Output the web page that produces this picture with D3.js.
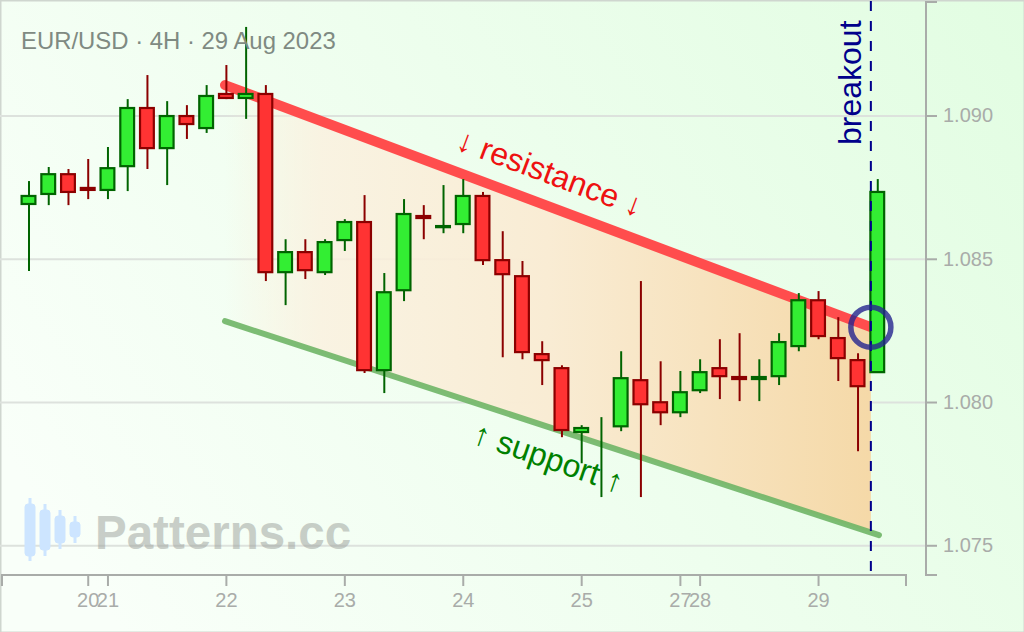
<!DOCTYPE html>
<html>
<head>
<meta charset="utf-8">
<script src="https://cdn.jsdelivr.net/npm/d3@7"></script>
<style>
  html, body { margin: 0; padding: 0; background: #fff; }
  svg { display: block; font-family: "Liberation Sans", Arial, sans-serif; }
</style>
</head>
<body>
<div id="chart"></div>
<script>
// candles, oldest first. -> null open/close = candle with a wick only
var opens = [1.08693,1.08728,1.08797,1.08749,1.08742,1.08825,1.09028,1.08888,1.09000,1.08958,1.09077,1.09063,1.09077,1.08455,1.08525,1.08455,1.08567,1.08630,1.08113,1.08392,1.08651,1.08612,1.08623,1.08721,1.08497,1.08441,1.08169,1.08120,1.07897,null,1.07917,1.08078,1.08001,1.07966,1.08043,1.08120,1.08089,1.08082,1.08092,1.08197,1.08357,1.08225,1.08148,1.08106];
var closes = [1.08721,1.08797,1.08735,1.08742,1.08818,1.09028,1.08888,1.09000,1.08972,1.09070,1.09063,1.09077,1.08455,1.08525,1.08462,1.08560,1.08630,1.08113,1.08385,1.08658,1.08644,1.08616,1.08721,1.08497,1.08448,1.08176,1.08148,1.07904,1.07911,null,1.08085,1.07994,1.07966,1.08036,1.08106,1.08092,1.08082,1.08089,1.08211,1.08357,1.08232,1.08155,1.08057,1.08735];
var highs = [1.08773,1.08822,1.08815,1.08850,1.08892,1.09059,1.09143,1.09052,1.09038,1.09108,1.09178,1.09311,1.09108,1.08570,1.08570,1.08570,1.08640,1.08724,1.08452,1.08710,1.08689,1.08759,1.08780,1.08735,1.08598,1.08494,1.08214,1.08130,1.07921,1.07949,1.08179,1.08424,1.08144,1.08110,1.08151,1.08221,1.08242,1.08151,1.08242,1.08382,1.08389,1.08298,1.08172,1.08780];
var lows = [1.08459,1.08689,1.08689,1.08710,1.08710,1.08738,1.08815,1.08759,1.08920,1.08941,1.09059,1.08990,1.08424,1.08340,1.08431,1.08445,1.08529,1.08103,1.08033,1.08354,1.08570,1.08591,1.08591,1.08480,1.08158,1.08151,1.08061,1.07879,1.07788,1.07670,1.07900,1.07670,1.07921,1.07949,1.08033,1.08012,1.08005,1.08005,1.08061,1.08179,1.08221,1.08075,1.07830,1.08106];
// true = green candle
var isUp = [1,1,0,0,1,1,0,1,0,1,0,1,0,1,0,1,1,0,1,1,0,1,1,0,0,0,0,0,1,1,1,0,0,1,1,0,0,1,1,1,0,0,0,1];

var priceTicks = [1.075, 1.080, 1.085, 1.090];
var dayTickIndex = [3, 4, 10, 16, 22, 28, 33, 34, 40];
var dayTickLabels = ["20", "21", "22", "23", "24", "25", "27", "28", "29"];

// channel lines as [candle index, price]
var resistanceLine = [[9.93, 1.09108], [42.65, 1.08263]];
var supportLine = [[9.93, 1.08284], [43.06, 1.07537]];
var channelFill = [[9.93, 1.09108], [42.65, 1.08263], [42.65, 1.07546], [9.93, 1.08284]];
var breakoutIndex = 42.65;
var breakoutPrice = 1.08263;

var width = 1024, height = 632;

var svg = d3.select("#chart").append("svg")
    .attr("width", width)
    .attr("height", height);

var defs = svg.append("defs");

var bg = defs.append("linearGradient")
    .attr("id", "bgGrad")
    .attr("gradientUnits", "userSpaceOnUse")
    .attr("x1", 100).attr("y1", 600).attr("x2", 1024).attr("y2", 0);
bg.append("stop").attr("offset", "0%").attr("stop-color", "#f9fff9");
bg.append("stop").attr("offset", "100%").attr("stop-color", "#e2fde2");

var channelGrad = defs.append("linearGradient")
    .attr("id", "channelGrad")
    .attr("x1", "0%").attr("x2", "100%").attr("y1", "0%").attr("y2", "0%");
channelGrad.append("stop").attr("offset", "0%").attr("stop-color", "#fdeed8").attr("stop-opacity", 0);
channelGrad.append("stop").attr("offset", "15%").attr("stop-color", "#fbf0de").attr("stop-opacity", 0.8);
channelGrad.append("stop").attr("offset", "50%").attr("stop-color", "#f9ecd4").attr("stop-opacity", 1);
channelGrad.append("stop").attr("offset", "100%").attr("stop-color", "#f5d9a8").attr("stop-opacity", 1);

svg.append("rect")
    .attr("x", 0.5).attr("y", 0.5)
    .attr("width", width).attr("height", height)
    .attr("fill", "url(#bgGrad)")
    .attr("stroke", "#cfd6cf")
    .attr("stroke-width", 2);

// scales
var x = d3.scaleLinear().domain([-1.368, 44.43]).range([2, 906]);
var y = d3.scaleLinear().domain([1.07398, 1.09398]).range([575, 2]);

// grid
svg.append("g").selectAll("line")
    .data(priceTicks)
    .enter()
    .append("line")
    .attr("x1", 0)
    .attr("x2", 926)
    .attr("y1", function(d) { return y(d); })
    .attr("y2", function(d) { return y(d); })
    .attr("stroke", "#dde2dd")
    .attr("stroke-width", 2);

// watermark
svg.append("text")
    .attr("x", 95)
    .attr("y", 549)
    .attr("font-size", 47.5)
    .attr("font-weight", "bold")
    .attr("fill", "#9a9f9a")
    .attr("opacity", 0.5)
    .text("Patterns.cc");

var logo = svg.append("g").attr("fill", "#cde5ff").attr("stroke", "#cde5ff");
[[30, 498, 504, 556, 561], [45, 504, 510, 550, 556], [60, 510, 516, 543, 549], [75, 516, 522, 537, 543]].forEach(function(c) {
    logo.append("line").attr("x1", c[0]).attr("x2", c[0]).attr("y1", c[1]).attr("y2", c[4]).attr("stroke-width", 3);
    logo.append("rect").attr("x", c[0] - 5).attr("y", c[2]).attr("width", 10).attr("height", c[3] - c[2]).attr("rx", 3);
});

// axes
var yAxis = d3.axisRight(y)
    .tickValues(priceTicks)
    .tickFormat(d3.format(".3f"))
    .tickSize(11)
    .tickPadding(6)
    .offset(0);

var xAxis = d3.axisBottom(x)
    .tickValues(dayTickIndex)
    .tickFormat(function(d) { return dayTickLabels[dayTickIndex.indexOf(d)]; })
    .tickSize(11)
    .tickPadding(7)
    .offset(0);

var yG = svg.append("g").attr("transform", "translate(926,0)").call(yAxis);
var xG = svg.append("g").attr("transform", "translate(0,575)").call(xAxis);

[yG, xG].forEach(function(g) {
    g.selectAll("path, line").attr("stroke", "#a9aca9").attr("stroke-width", 2);
    g.selectAll("text")
        .attr("fill", "#a9aca9")
        .style("font-family", '"Liberation Sans", Arial, sans-serif')
        .style("font-size", "20px");
});

// channel
var lineGen = d3.line()
    .x(function(d) { return x(d[0]); })
    .y(function(d) { return y(d[1]); });

svg.append("path")
    .attr("d", lineGen(channelFill) + "Z")
    .attr("fill", "url(#channelGrad)");

svg.append("path")
    .attr("d", lineGen(supportLine))
    .attr("fill", "none")
    .attr("stroke", "#6fb566")
    .attr("stroke-opacity", 0.9)
    .attr("stroke-width", 6)
    .attr("stroke-linecap", "round");

svg.append("path")
    .attr("d", lineGen(resistanceLine))
    .attr("fill", "none")
    .attr("stroke", "#ff4d4d")
    .attr("stroke-width", 10)
    .attr("stroke-linecap", "round");

// candles
var bodyW = 13.8;
var candles = svg.append("g").selectAll("g")
    .data(highs.map(function(h, i) { return i; }))
    .enter()
    .append("g");

candles.append("line")
    .attr("x1", function(i) { return x(i); })
    .attr("x2", function(i) { return x(i); })
    .attr("y1", function(i) { return y(highs[i]); })
    .attr("y2", function(i) { return y(lows[i]); })
    .attr("stroke", function(i) { return isUp[i] ? "#006400" : "#8b0000"; })
    .attr("stroke-width", 2);

candles.filter(function(i) { return opens[i] !== null; })
    .append("rect")
    .attr("x", function(i) { return x(i) - bodyW / 2 - 0.5; })
    .attr("y", function(i) { return y(Math.max(opens[i], closes[i])); })
    .attr("width", bodyW)
    .attr("height", function(i) { return Math.abs(y(opens[i]) - y(closes[i])); })
    .attr("fill", function(i) { return isUp[i] ? "#33ee33" : "#ff3333"; })
    .attr("stroke", function(i) { return isUp[i] ? "#006400" : "#8b0000"; })
    .attr("stroke-width", 2.2);

// breakout marker
svg.append("line")
    .attr("x1", x(breakoutIndex))
    .attr("x2", x(breakoutIndex))
    .attr("y1", 571)
    .attr("y2", 0)
    .attr("stroke", "#00008b")
    .attr("stroke-width", 2)
    .attr("stroke-dasharray", "10,10");

svg.append("circle")
    .attr("cx", x(breakoutIndex))
    .attr("cy", y(breakoutPrice))
    .attr("r", 20)
    .attr("fill", "none")
    .attr("stroke", "#24248f")
    .attr("stroke-opacity", 0.8)
    .attr("stroke-width", 5.5);

svg.append("text")
    .attr("transform", "translate(861,145)rotate(-90)")
    .attr("font-size", 32)
    .attr("fill", "#00008b")
    .text("breakout");

// labels
svg.append("text")
    .attr("x", 21)
    .attr("y", 49)
    .attr("font-size", 23.9)
    .attr("fill", "#7f8a82")
    .text("EUR/USD · 4H · 29 Aug 2023");

svg.append("text")
    .attr("transform", "translate(546,183)rotate(20.5)")
    .attr("text-anchor", "middle")
    .attr("font-size", 32)
    .attr("fill", "#ee1111")
    .text("↓ resistance ↓");

svg.append("text")
    .attr("transform", "translate(545,468)rotate(19)")
    .attr("text-anchor", "middle")
    .attr("font-size", 32)
    .attr("fill", "#008000")
    .text("↑ support ↑");
</script>
</body>
</html>
